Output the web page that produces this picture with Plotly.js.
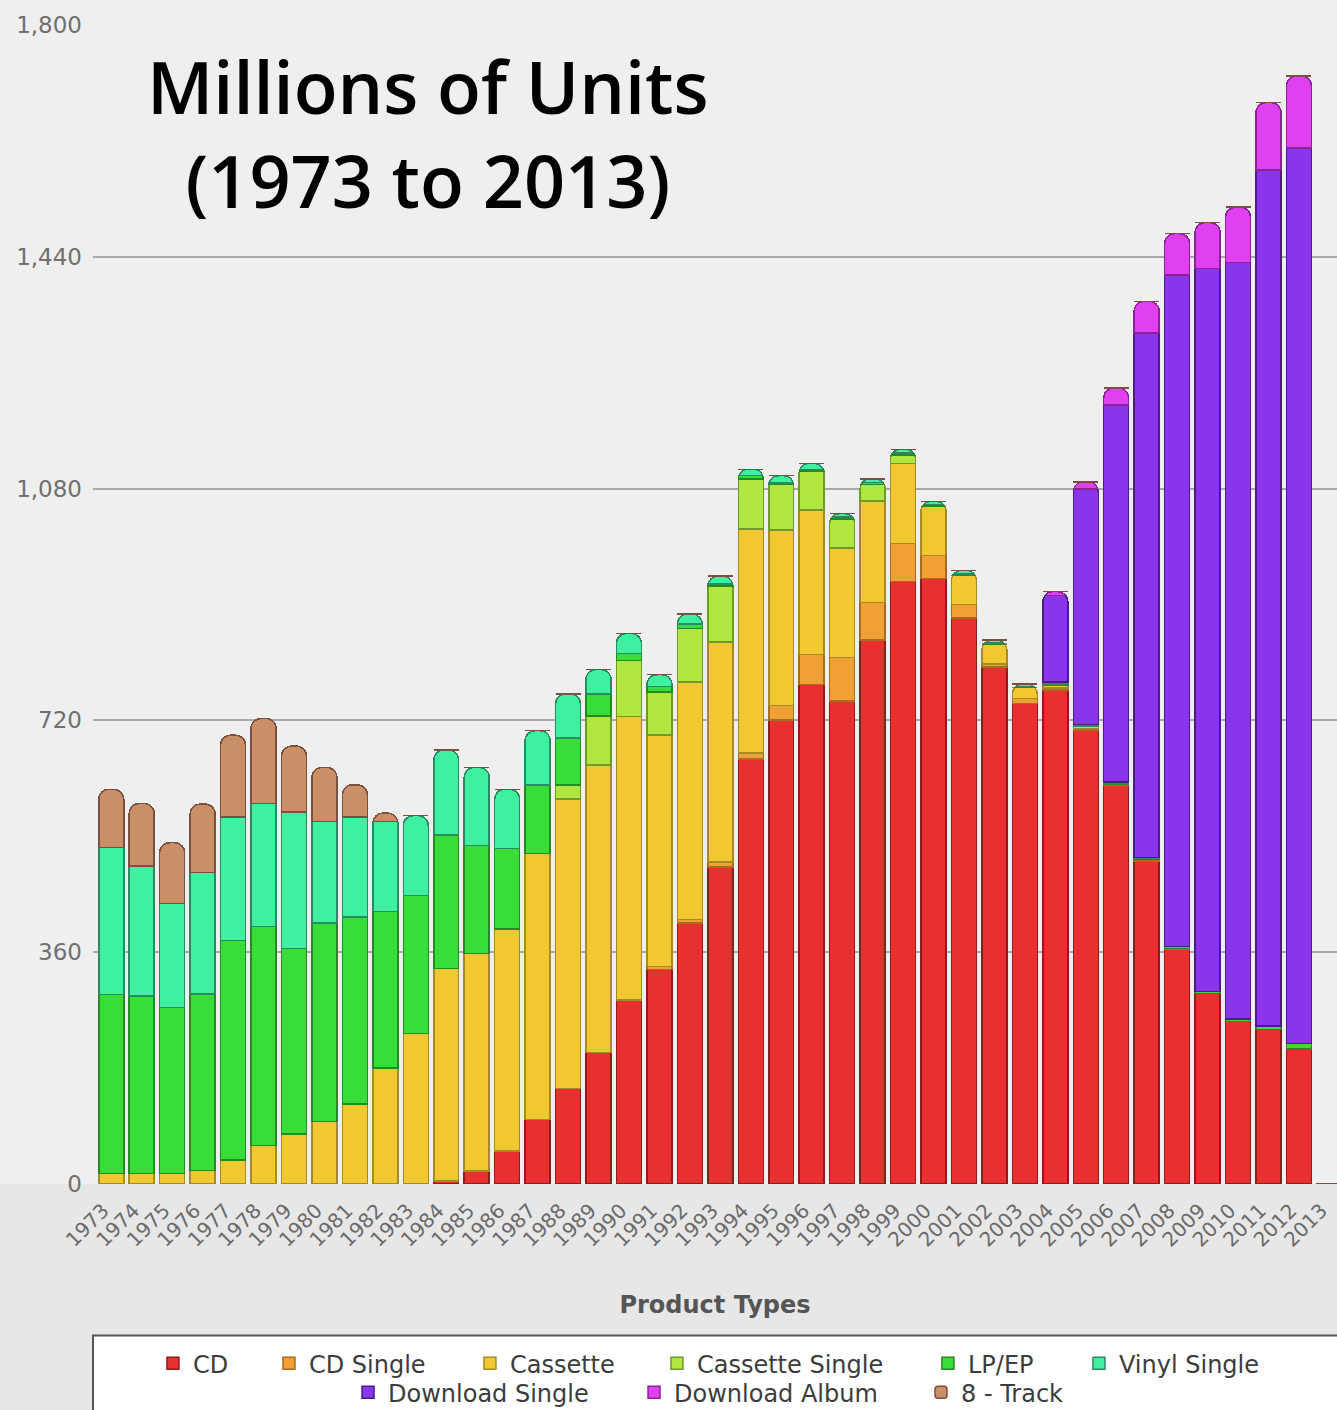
<!DOCTYPE html>
<html><head><meta charset="utf-8">
<script src="https://cdn.plot.ly/plotly-3.0.1.min.js"></script>
<style>html,body{margin:0;padding:0;background:#e8e8e8;overflow:hidden}</style>
</head><body><div id="chart" style="width:1337px;height:1410px"></div>
<script>
const years = ['1973','1974','1975','1976','1977','1978','1979','1980','1981','1982','1983','1984','1985','1986','1987','1988','1989','1990','1991','1992','1993','1994','1995','1996','1997','1998','1999','2000','2001','2002','2003','2004','2005','2006','2007','2008','2009','2010','2011','2012','2013'];
const cd = [0,0,0,0,0,0,0,0,0,0, 1,5,20,51,100,148,204,285,333,405, 492,660,721,776,750,845,936,940,879,803, 746,767,705,619,502,365,296,252,240,210, 1];
const cdSingle = [0,0,0,0,0,0,0,0,0,0, 0,0,0,0,0,0,0,1,5,6, 8,9,22,46,68,58,59,36,21,4.5, 8,3,2.8,1.7,2.6,0.7,0,0,0,0, 0];
const cassette = [16,16,16,21,37,60,78,97,124,180, 233,330,338,345,413,450,447,440,359,369, 342,348,273,225,170,158,124,76,45,31, 17,5,2.5,0.7,0.4,0,0,0,0,0, 0];
const cassetteSingle = [0,0,0,0,0,0,0,0,0,0, 0,0,0,0,0,22,76,87,67,83, 87,78,70,60,45,25,13,1,0,0, 0,0,0,0,0,0,0,0,0,0, 0];
const lpEp = [278,276,258,274,341,340,288,308,291,243, 214,207,168,125,107,73,34,11,9,7, 3,5,3,3,3,3.4,3,2.2,2.3,1.7, 1.5,1.4,1,0.9,1.3,2.9,3.2,4,5.5,8, 0];
const vinylSingle = [229,202,162,189,192,191,212,158,155,140, 124,132,121,92,84,68,38,31,18,15, 12,10,11,9,5,5.6,6,5,5.5,4.4, 3.8,3.5,2.3,1.9,0.6,0.4,0,0,0,0, 0];
const downloadSingle = [0,0,0,0,0,0,0,0,0,0, 0,0,0,0,0,0,0,0,0,0, 0,0,0,0,0,0,0,0,0,0, 0,134,366,586,815,1043,1123,1175,1329,1391, 0];
const downloadAlbum = [0,0,0,0,0,0,0,0,0,0, 0,0,0,0,0,0,0,0,0,0, 0,0,0,0,0,0,0,0,0,0, 0,6,11,26,49,64,71,86,105,112, 0];
const eightTrack = [90,97,94,106,127,132,102,84,50,13, 0,0,0,0,0,0,0,0,0,0, 0,0,0,0,0,0,0,0,0,0, 0,0,0,0,0,0,0,0,0,0, 0];

const seriesNames = ['CD','CD Single','Cassette','Cassette Single','LP/EP','Vinyl Single','Download Single','Download Album','8 - Track'];
const seriesValues = [cd, cdSingle, cassette, cassetteSingle, lpEp, vinylSingle, downloadSingle, downloadAlbum, eightTrack];
const fills = ['#e83030','#f0a035','#f2c832','#b0e640','#38dd38','#3ff0a0','#8a34ec','#e040f0','#c99068'];
const edges = ['#8e1c1c','#a56c22','#a68a24','#6e9a2c','#248a24','#2a8a64','#4a1c88','#8a2496','#7a5040'];
const legendIds = ['legend','legend','legend','legend','legend','legend','legend2','legend2','legend2'];
const legendWidths = [71,156,142,226,106,150,241,242,115];

const traces = seriesNames.map((name, i) => {
  const t = {
    type: 'bar', name: name, x: years, y: seriesValues[i],
    legend: legendIds[i], legendwidth: legendWidths[i],
    marker: {color: fills[i], line: {color: edges[i], width: 1.5}},
    hoverinfo: 'x+y+name'
  };
  if (name === '8 - Track') t.marker.cornerradius = 10;
  return t;
});

const layout = {
  width: 1337, height: 1410,
  margin: {l: 93, r: 0, t: 25, b: 226, autoexpand: false},
  paper_bgcolor: '#e7e7e7', plot_bgcolor: '#f2f2f2',
  barmode: 'stack', bargap: 0.18,
  font: {family: 'DejaVu Sans, Verdana, sans-serif', color: '#666'},
  xaxis: {
    type: 'category', range: [-0.6, 40.25], tickangle: -45,
    tickfont: {size: 20, color: '#6a6a6a'}, showgrid: false, zeroline: false,
    showline: false, ticks: '', ticklabelstandoff: 10, ticklabelshift: -8,
    title: {text: 'Product Types', font: {size: 24, color: '#555', weight: 'bold'}, standoff: 45}
  },
  yaxis: {
    range: [0, 1800], tickvals: [0,360,720,1080,1440,1800], tickformat: ',d',
    tickfont: {size: 23, color: '#707070'}, gridcolor: '#a8a8a8', gridwidth: 2,
    zeroline: false, showline: false, ticklabelstandoff: 10
  },
  legend: {orientation: 'h', x: 0.0482, xanchor: 'left', y: -0.1355, yanchor: 'top',
    bgcolor: 'rgba(0,0,0,0)', borderwidth: 0, traceorder: 'normal',
    font: {size: 24, color: '#3c3c3c'}},
  legend2: {orientation: 'h', x: 0.205, xanchor: 'left', y: -0.1606, yanchor: 'top',
    bgcolor: 'rgba(0,0,0,0)', borderwidth: 0, traceorder: 'normal',
    font: {size: 24, color: '#3c3c3c'}},
  shapes: [
    {type: 'rect', xref: 'paper', yref: 'paper', x0: -0.075, x1: 1.01, y0: 0, y1: 1.03,
     fillcolor: '#efefef', line: {width: 0}, layer: 'below'},
    {type: 'rect', xref: 'paper', yref: 'paper', x0: 0, x1: 1.02, y0: -0.21, y1: -0.1307,
     fillcolor: '#ffffff', line: {color: '#555', width: 2}, layer: 'below'}
  ],
  annotations: [{
    xref: 'paper', yref: 'paper', x: 0.2693, y: 0.9064, xanchor: 'center', yanchor: 'middle',
    text: 'Millions of Units<br>(1973 to 2013)', showarrow: false, align: 'center',
    font: {family: 'Open Sans, sans-serif', size: 72, color: '#000', weight: 600}
  }],
  showlegend: true
};

Plotly.newPlot('chart', traces, layout, {displayModeBar: false, staticPlot: true});
</script></body></html>
